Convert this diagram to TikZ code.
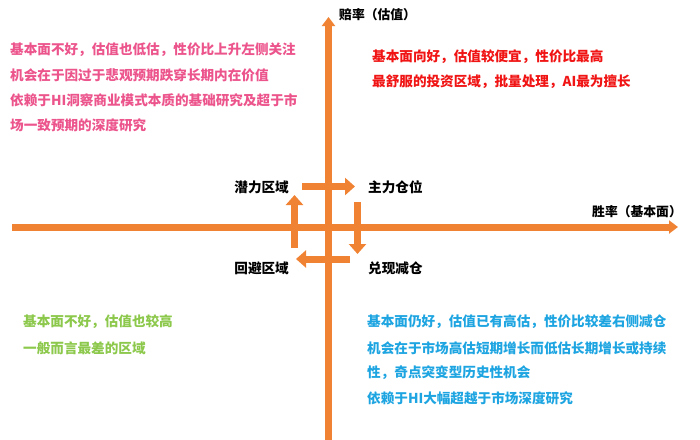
\documentclass[tikz,border=0pt]{standalone}
\usepackage{fontspec}
\setmainfont{Noto Sans CJK SC}
\usetikzlibrary{arrows.meta}
\definecolor{axisor}{RGB}{240,130,52}
\definecolor{pinktxt}{RGB}{236,84,140}
\definecolor{redtxt}{RGB}{240,20,20}
\definecolor{greentxt}{RGB}{140,200,75}
\definecolor{bluetxt}{RGB}{30,165,225}
\tikzset{
  axisline/.style={draw=axisor, line width=7pt, -{Triangle[width=13pt,length=9pt]}},
  cycarrow/.style={draw=axisor, line width=7pt, -{Triangle[width=17pt,length=10pt]}},
  txt/.style={inner sep=0pt, anchor=west, font=\fontsize{13.6}{16}\selectfont\bfseries},
  lbl/.style={inner sep=0pt, font=\fontsize{13.6}{16}\selectfont\bfseries, text=black},
  axlbl/.style={inner sep=0pt, anchor=west, font=\fontsize{12.8}{15}\selectfont\bfseries, text=black}
}
\begin{document}
\begin{tikzpicture}[x=1pt,y=-1pt]
\useasboundingbox (0,0) rectangle (700,439);
% axes
\coordinate (vb) at (328.5,442);
\coordinate (vt) at (328.5,17);
\coordinate (hl) at (12,227);
\coordinate (hr) at (678,227);
\draw[axisline] (vb) -- (vt);
\draw[axisline] (hl) -- (hr);
\node[axlbl] (ylab) at (339,15) {赔率（估值）};
\node[axlbl] (xlab) at (592,212) {胜率（基本面）};
% cycle arrows
\coordinate (a1s) at (302,186.5);
\coordinate (a1e) at (355,186.5);
\coordinate (a2s) at (357.5,202);
\coordinate (a2e) at (357.5,254);
\coordinate (a3s) at (350,259);
\coordinate (a3e) at (296,259);
\coordinate (a4s) at (294.5,248);
\coordinate (a4e) at (294.5,195);
\draw[cycarrow] (a1s) -- (a1e);
\draw[cycarrow] (a2s) -- (a2e);
\draw[cycarrow] (a3s) -- (a3e);
\draw[cycarrow] (a4s) -- (a4e);
% quadrant labels
\node[lbl, anchor=east] (qlt) at (289,187) {潜力区域};
\node[lbl, anchor=west] (qrt) at (368,187) {主力仓位};
\node[lbl, anchor=east] (qlb) at (289,268) {回避区域};
\node[lbl, anchor=west] (qrb) at (368,268) {兑现减仓};
% pink
\node[txt, text=pinktxt] (p1) at (10,50) {基本面不好，估值也低估，性价比上升左侧关注};
\node[txt, text=pinktxt] (p2) at (10,75) {机会在于因过于悲观预期跌穿长期内在价值};
\node[txt, text=pinktxt] (p3) at (10,100) {依赖于HI洞察商业模式本质的基础研究及超于市};
\node[txt, text=pinktxt] (p4) at (10,125) {场一致预期的深度研究};
% red
\node[txt, text=redtxt] (r1) at (372,57) {基本面向好，估值较便宜，性价比最高};
\node[txt, text=redtxt] (r2) at (372,82) {最舒服的投资区域，批量处理，AI最为擅长};
% green
\node[txt, text=greentxt] (g1) at (23,322) {基本面不好，估值也较高};
\node[txt, text=greentxt] (g2) at (23,348) {一般而言最差的区域};
% blue
\node[txt, text=bluetxt] (b1) at (367,322) {基本面仍好，估值已有高估，性价比较差右侧减仓};
\node[txt, text=bluetxt] (b2) at (367,348) {机会在于市场高估短期增长而低估长期增长或持续};
\node[txt, text=bluetxt] (b3) at (367,373) {性，奇点突变型历史性机会};
\node[txt, text=bluetxt] (b4) at (367,398) {依赖于HI大幅超越于市场深度研究};
\end{tikzpicture}
\end{document}
